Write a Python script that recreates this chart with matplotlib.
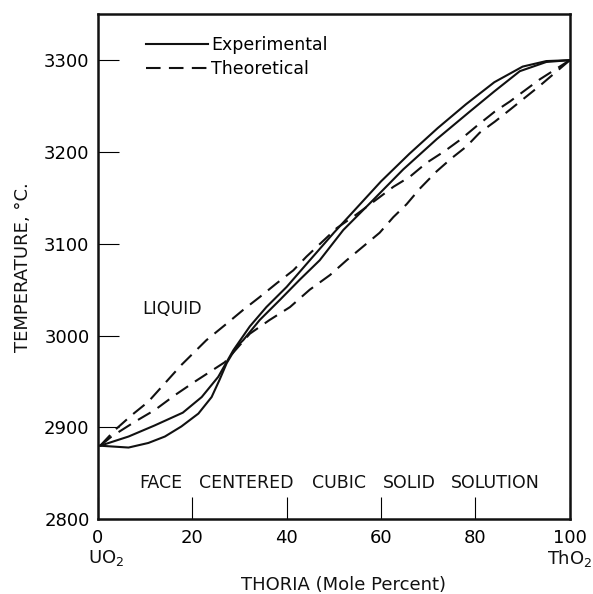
import matplotlib
matplotlib.use('Agg')
import matplotlib.pyplot as plt
import matplotlib.transforms as mtransforms

# Dados (x = mole % ThO2, y = temperatura em C)
exp_liq_x = [0.5, 6.5, 12, 18, 22, 25.5, 28.7, 32.2, 35.7, 40, 44.9, 50, 55, 60, 66, 72, 78, 84, 90, 95, 100]
exp_liq_y = [2880, 2890, 2902, 2916, 2933, 2955, 2984, 3010, 3031, 3053, 3082, 3112, 3140, 3168, 3198, 3226, 3252, 3276, 3293, 3299, 3300]

exp_sol_x = [0.5, 6.5, 10.7, 14.2, 17.7, 21.3, 24.1, 25.8, 27.3, 29.4, 30.8, 34.3, 38.6, 42.8, 47, 52, 58, 64.7,
             71.8, 78.8, 84, 89.4, 95, 100]
exp_sol_y = [2880, 2878, 2883, 2890, 2901, 2915, 2933, 2952, 2970, 2988, 2995, 3017, 3039, 3061, 3082, 3115, 3146, 3181,
             3214, 3244, 3266, 3288, 3298, 3300]

teo_liq_x = [0.5, 3.6, 7.1, 10.7, 14.2, 17.7, 23, 27.3, 30.8, 34.3, 37.9, 41.4, 44.2, 50.6, 54.8, 59.5, 62.6, 66.1,
             69.6, 73.5, 76.7, 80.2, 84.1, 87.3, 93.6, 100]
teo_liq_y = [2880, 2897, 2913, 2928, 2948, 2968, 2995, 3013, 3028, 3042, 3057, 3071, 3086, 3117, 3132, 3150, 3162, 3173,
             3188, 3201, 3213, 3228, 3244, 3255, 3279, 3300]

teo_sol_x = [0.5, 2.9, 7.8, 12.1, 16.3, 20.6, 26.9, 32.2, 36.4, 40.7, 44.9, 49.2, 52.7, 56.2, 59.7, 62.6, 65.4, 68.2,
             71.8, 74.9, 78.1, 80.9, 84.1, 87.3, 93.6, 100]
teo_sol_y = [2880, 2890, 2906, 2919, 2935, 2950, 2971, 3002, 3017, 3031, 3050, 3066, 3082, 3097, 3112, 3129, 3143, 3160,
             3179, 3193, 3206, 3221, 3233, 3246, 3272, 3300]

x_ticks = [0, 20, 40, 60, 80, 100]
y_ticks = [2800, 2900, 3000, 3100, 3200, 3300]

# Palavras da regiao de solido e suas posicoes em x
palavras_solido = ['FACE', 'CENTERED', 'CUBIC', 'SOLID', 'SOLUTION']
palavras_x = [13.3, 31.4, 51.1, 66, 84.1]

plt.rcParams['font.family'] = 'DejaVu Sans'

fig = plt.figure(figsize=(5.93, 5.94), dpi=100)
ax = fig.add_axes([0.165, 0.126, 0.796, 0.85])

cor = '#111111'
tracos = (7, 4)

# Curvas experimentais (linha cheia)
ax.plot(exp_liq_x, exp_liq_y, color=cor, lw=1.5, label='Experimental')
ax.plot(exp_sol_x, exp_sol_y, color=cor, lw=1.5)

# Curvas teoricas (tracejadas)
ax.plot(teo_liq_x, teo_liq_y, color=cor, lw=1.5, dashes=tracos, label='Theoretical')
ax.plot(teo_sol_x, teo_sol_y, color=cor, lw=1.5, dashes=tracos)

ax.set_xlim(0, 100)
ax.set_ylim(2800, 3350)

ax.set_xticks(x_ticks)
ax.set_yticks(y_ticks)
ax.tick_params(axis='y', direction='in', length=15, width=0.8, pad=6, labelsize=13)
ax.tick_params(axis='x', direction='in', length=16, width=0.8, pad=7, labelsize=13)

for s in ax.spines.values():
    s.set_linewidth(1.8)
    s.set_color(cor)

# Nomes dos compostos abaixo de 0 e 100
trans = mtransforms.blended_transform_factory(ax.transData, ax.transAxes)
ax.text(-2, -0.057, 'UO$_2$', transform=trans, ha='left', va='top', fontsize=13, color=cor)
ax.text(100, -0.057, 'ThO$_2$', transform=trans, ha='center', va='top', fontsize=13, color=cor)

ax.set_xlabel('THORIA (Mole Percent)', fontsize=13, color=cor)
ax.xaxis.set_label_coords(0.52, -0.112)
ax.set_ylabel('TEMPERATURE, °C.', fontsize=13, labelpad=9, color=cor)

# Regioes do diagrama
ax.text(15.7, 3029, 'LIQUID', ha='center', va='center', fontsize=12.5, color=cor)
for palavra, px in zip(palavras_solido, palavras_x):
    ax.text(px, 2839, palavra, ha='center', va='center', fontsize=12.5, color=cor)

ax.legend(loc='upper left', bbox_to_anchor=(0.087, 0.971), frameon=False, fontsize=12.5,
          handlelength=3.6, handletextpad=0.15, labelspacing=0.35, borderaxespad=0)

fig.savefig('out.png', dpi=100)
